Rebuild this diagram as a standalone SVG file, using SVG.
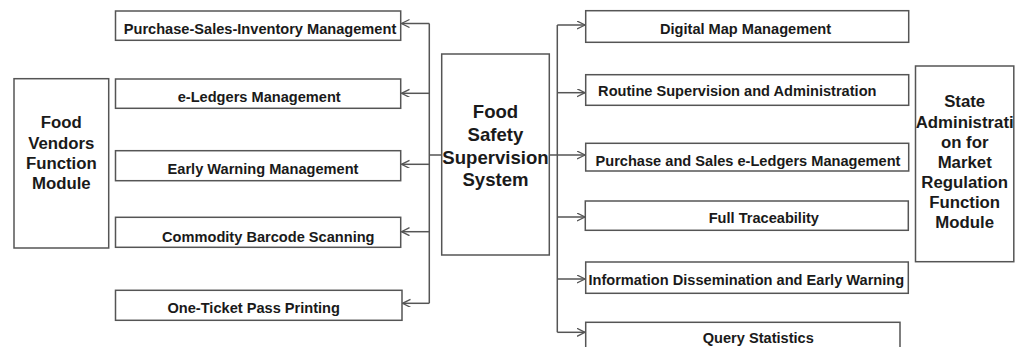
<svg xmlns="http://www.w3.org/2000/svg" width="1025" height="347" viewBox="0 0 1025 347">
  <defs>
    <marker id="arrow" markerWidth="10" markerHeight="10" refX="8" refY="4" orient="auto" markerUnits="userSpaceOnUse">
      <path d="M0,0 L8,4 L0,8" fill="none" stroke="#555" stroke-width="1.3"/>
    </marker>
    <style>
      .box { fill: #fff; stroke: #555; stroke-width: 1.5; }
      .lbl { font-family: "Liberation Sans", Arial, sans-serif; font-weight: bold; font-size: 14.6px; fill: #1a1a1a; text-anchor: middle; }
      .big { font-family: "Liberation Sans", Arial, sans-serif; font-weight: bold; font-size: 16.8px; fill: #1a1a1a; text-anchor: middle; }
      .core { font-family: "Liberation Sans", Arial, sans-serif; font-weight: bold; font-size: 18.6px; fill: #1a1a1a; text-anchor: middle; }
      .wire { fill: none; stroke: #555; stroke-width: 1.5; }
      .arr { fill: none; stroke: #555; stroke-width: 1.5; marker-end: url(#arrow); }
    </style>
  </defs>
  <rect width="1025" height="347" fill="#fff"/>

  <!-- connectors -->
  <g id="connectors">
    <!-- left trunk and branches -->
    <path class="wire" d="M429.3,23.5 V303.3"/>
    <path class="arr" d="M429.3,23.5 H401.5"/>
    <path class="arr" d="M429.3,93.3 H401.5"/>
    <path class="arr" d="M429.3,164.3 H401.5"/>
    <path class="arr" d="M429.3,231.7 H401.5"/>
    <path class="arr" d="M429.3,303.3 H402.5"/>
    <!-- link through the central system -->
    <path class="wire" d="M429.3,155 H441.7"/>
    <path class="wire" d="M549.3,155 H557.3"/>
    <!-- right trunk and branches -->
    <path class="wire" d="M557.3,25 V332.3"/>
    <path class="arr" d="M557.3,25 H585"/>
    <path class="arr" d="M557.3,92.7 H585"/>
    <path class="arr" d="M557.3,155 H585"/>
    <path class="arr" d="M557.3,217 H585"/>
    <path class="arr" d="M557.3,279 H585"/>
    <path class="arr" d="M557.3,332.3 H585"/>
  </g>

  <!-- vendor side module -->
  <g id="food-vendors">
    <rect class="box" x="14" y="78.7" width="94.7" height="169.3"/>
    <text class="big" x="61.3" y="128.3">Food</text>
    <text class="big" x="61.3" y="148.6">Vendors</text>
    <text class="big" x="61.3" y="168.9">Function</text>
    <text class="big" x="61.3" y="189.2">Module</text>
  </g>

  <g id="psi-management">
    <rect class="box" x="115.5" y="11" width="285.2" height="29.3"/>
    <text class="lbl" x="260" y="33.5">Purchase-Sales-Inventory Management</text>
  </g>
  <g id="e-ledgers">
    <rect class="box" x="115.5" y="79" width="285.2" height="29.3"/>
    <text class="lbl" x="259.2" y="101.7">e-Ledgers Management</text>
  </g>
  <g id="early-warning">
    <rect class="box" x="115.5" y="150.7" width="285.2" height="30"/>
    <text class="lbl" x="263" y="174">Early Warning Management</text>
  </g>
  <g id="barcode-scanning">
    <rect class="box" x="115.5" y="217.3" width="285.2" height="30"/>
    <text class="lbl" x="268.3" y="241.7">Commodity Barcode Scanning</text>
  </g>
  <g id="pass-printing">
    <rect class="box" x="115.5" y="290.3" width="286.5" height="30"/>
    <text class="lbl" x="253.7" y="313.3">One-Ticket Pass Printing</text>
  </g>

  <!-- central system -->
  <g id="supervision-system">
    <rect class="box" x="441.7" y="54" width="107.6" height="201"/>
    <text class="core" x="495.5" y="118.3">Food</text>
    <text class="core" x="495.5" y="141">Safety</text>
    <text class="core" x="495.5" y="163.5">Supervision</text>
    <text class="core" x="495.5" y="186.3">System</text>
  </g>

  <!-- regulator side functions -->
  <g id="digital-map">
    <rect class="box" x="585.7" y="10.7" width="323" height="31.6"/>
    <text class="lbl" x="745.5" y="33.7">Digital Map Management</text>
  </g>
  <g id="routine-supervision">
    <rect class="box" x="585.7" y="74.7" width="323" height="30.6"/>
    <text class="lbl" x="737.3" y="96">Routine Supervision and Administration</text>
  </g>
  <g id="sales-e-ledgers">
    <rect class="box" x="585.7" y="143.3" width="323" height="27.7"/>
    <text class="lbl" x="748" y="165.7">Purchase and Sales e-Ledgers Management</text>
  </g>
  <g id="traceability">
    <rect class="box" x="585.3" y="201" width="323" height="29.3"/>
    <text class="lbl" x="763.8" y="222.7">Full Traceability</text>
  </g>
  <g id="info-dissemination">
    <rect class="box" x="585.7" y="262" width="322.6" height="31.3"/>
    <text class="lbl" x="746.3" y="285">Information Dissemination and Early Warning</text>
  </g>
  <g id="query-statistics">
    <rect class="box" x="585.7" y="322.3" width="314.3" height="30"/>
    <text class="lbl" x="758.3" y="343.3">Query Statistics</text>
  </g>

  <!-- regulator module -->
  <g id="market-regulation">
    <rect class="box" x="915.5" y="66" width="98.3" height="195.7"/>
    <text class="big" x="964.7" y="107.3">State</text>
    <text class="big" x="964.7" y="127.5">Administrati</text>
    <text class="big" x="964.7" y="147.7">on for</text>
    <text class="big" x="964.7" y="167.9">Market</text>
    <text class="big" x="964.7" y="188.1">Regulation</text>
    <text class="big" x="964.7" y="208.3">Function</text>
    <text class="big" x="964.7" y="228.4">Module</text>
  </g>
</svg>
